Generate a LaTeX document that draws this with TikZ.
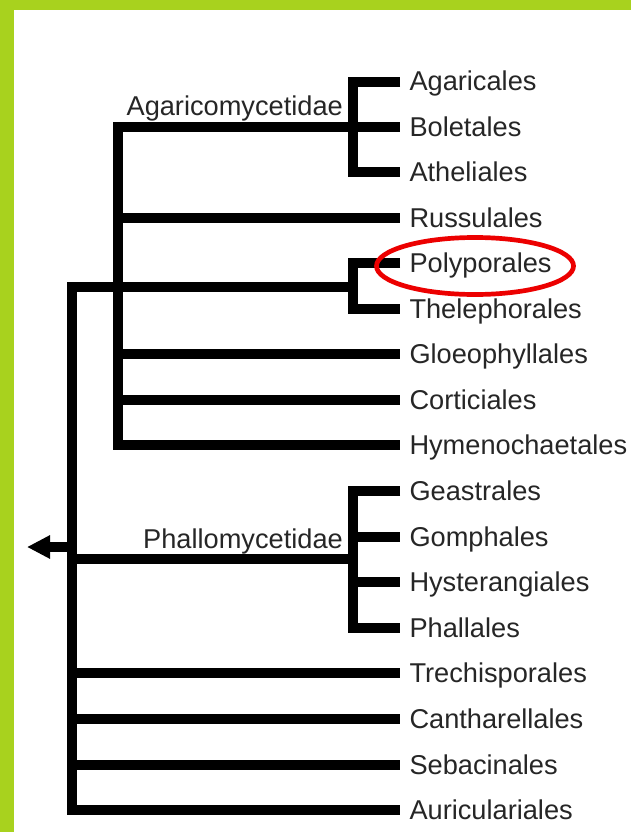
\documentclass[tikz,border=0pt]{standalone}
\usepackage{fontspec}
\setmainfont{Liberation Sans}
\usetikzlibrary{arrows.meta}
\definecolor{framegreen}{RGB}{168,210,30}
\definecolor{markred}{RGB}{236,0,0}
\tikzset{
  branch/.style={line width=10pt, line cap=butt, line join=miter, black},
  lab/.style={anchor=west, inner sep=0pt, outer xsep=9.5pt, outer ysep=0pt,
              text height=20pt, text depth=2pt, font=\fontsize{27.2}{30}\selectfont, text=black!85},
  cladelab/.style={anchor=base east, inner sep=0pt, font=\fontsize{27.2}{30}\selectfont, text=black!85},
}
\begin{document}
\begin{tikzpicture}[x=1pt,y=-1pt]
\useasboundingbox (0,0) rectangle (631,832);
\fill[white] (0,0) rectangle (631,832);
\fill[framegreen] (0,0) rectangle (631,10);
\fill[framegreen] (0,0) rectangle (14,832);

% leaf labels
\node[lab] (agar) at (400,82) {Agaricales};
\node[lab] (bole) at (400,127) {Boletales};
\node[lab] (athe) at (400,172) {Atheliales};
\node[lab] (russ) at (400,218) {Russulales};
\node[lab] (poly) at (400,263) {Polyporales};
\node[lab] (thel) at (400,309) {Thelephorales};
\node[lab] (gloe) at (400,354) {Gloeophyllales};
\node[lab] (cort) at (400,400) {Corticiales};
\node[lab] (hyme) at (400,445) {Hymenochaetales};
\node[lab] (geas) at (400,491) {Geastrales};
\node[lab] (gomp) at (400,537) {Gomphales};
\node[lab] (hyst) at (400,582) {Hysterangiales};
\node[lab] (phal) at (400,628) {Phallales};
\node[lab] (trec) at (400,673) {Trechisporales};
\node[lab] (cant) at (400,719) {Cantharellales};
\node[lab] (seba) at (400,765) {Sebacinales};
\node[lab] (auri) at (400,810) {Auriculariales};

% internal nodes
\coordinate (agv) at (353,127);
\coordinate (agtop) at (353,82);
\coordinate (agbot) at (353,172);
\coordinate (plv) at (353,287);
\coordinate (pltop) at (353,263);
\coordinate (plbot) at (353,309);
\coordinate (amtop) at (118,127);
\coordinate (ambot) at (118,445);
\coordinate (amr) at (118,218);
\coordinate (amg) at (118,354);
\coordinate (amc) at (118,400);
\coordinate (phv) at (353,559);
\coordinate (phtop) at (353,491);
\coordinate (phbot) at (353,628);
\coordinate (ph2) at (353,537);
\coordinate (ph3) at (353,582);
\coordinate (rtop) at (72,287);
\coordinate (rbot) at (72,810);
\coordinate (rph) at (72,559);
\coordinate (rtr) at (72,673);
\coordinate (rca) at (72,719);
\coordinate (rse) at (72,765);
\coordinate (rarr) at (72,547);
\coordinate (tip) at (27,547);

% clade labels
\node[cladelab] (agaricom) at (343,116) {Agaricomycetidae};
\node[cladelab] (phallom) at (343,548) {Phallomycetidae};

% Agaricales clade
\draw[branch] (agar.west) -- (agtop) -- (agbot) -- (athe.west);
\draw[branch] (agv) -- (bole.west);
% Polyporales clade
\draw[branch] (poly.west) -- (pltop) -- (plbot) -- (thel.west);
% Agaricomycetidae
\draw[branch] (agv) -- (amtop) -- (ambot) -- (hyme.west);
\draw[branch] (amr) -- (russ.west);
\draw[branch] (amg) -- (gloe.west);
\draw[branch] (amc) -- (cort.west);
% Phallomycetidae
\draw[branch] (geas.west) -- (phtop) -- (phbot) -- (phal.west);
\draw[branch] (ph2) -- (gomp.west);
\draw[branch] (ph3) -- (hyst.west);
% root
\draw[branch] (plv) -- (rtop) -- (rbot) -- (auri.west);
\draw[branch] (rph) -- (phv);
\draw[branch] (rtr) -- (trec.west);
\draw[branch] (rca) -- (cant.west);
\draw[branch] (rse) -- (seba.west);
\draw[branch, -{Triangle[length=23pt,width=22pt]}] (rarr) -- (tip);

% highlight
\draw[markred, line width=4.7pt] (475,266) ellipse [x radius=98.5, y radius=28.5];
\end{tikzpicture}
\end{document}
